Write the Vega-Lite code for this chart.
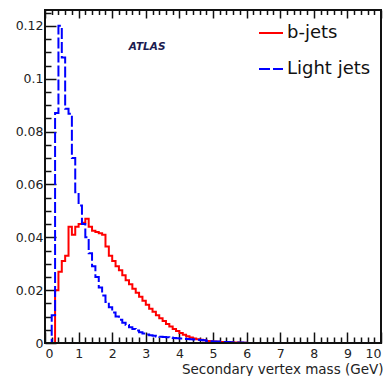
{
  "$schema": "https://vega.github.io/schema/vega-lite/v6.json",
  "width": 336,
  "height": 333,
  "autosize": {"type": "none"},
  "padding": {"left": 45, "top": 10, "right": 4, "bottom": 33},
  "background": "white",
  "config": {
    "font": "DejaVu Sans",
    "view": {"stroke": "#111", "strokeWidth": 2},
    "axis": {"grid": false, "domain": false, "tickColor": "#111", "tickWidth": 1.5, "labelColor": "#222", "labelFont": "DejaVu Sans"},
    "legend": {
      "orient": "none", "legendX": 213, "legendY": 10, "padding": 0,
      "symbolType": "stroke", "symbolSize": 576, "symbolStrokeWidth": 2,
      "labelFont": "DejaVu Sans", "labelFontSize": 18, "labelColor": "#111",
      "labelOffset": 3, "rowPadding": 14
    }
  },
  "datasets": {
    "bjets": [
      {"mass": 0.0, "frac": 0, "jet": "b-jets"}, {"mass": 0.1, "frac": 0, "jet": "b-jets"},
      {"mass": 0.2, "frac": 0, "jet": "b-jets"}, {"mass": 0.3, "frac": 0.020, "jet": "b-jets"},
      {"mass": 0.4, "frac": 0.027, "jet": "b-jets"}, {"mass": 0.5, "frac": 0.031, "jet": "b-jets"},
      {"mass": 0.6, "frac": 0.033, "jet": "b-jets"}, {"mass": 0.7, "frac": 0.044, "jet": "b-jets"},
      {"mass": 0.8, "frac": 0.041, "jet": "b-jets"}, {"mass": 0.9, "frac": 0.044, "jet": "b-jets"},
      {"mass": 1.0, "frac": 0.045, "jet": "b-jets"}, {"mass": 1.1, "frac": 0.0455, "jet": "b-jets"},
      {"mass": 1.2, "frac": 0.047, "jet": "b-jets"}, {"mass": 1.3, "frac": 0.044, "jet": "b-jets"},
      {"mass": 1.4, "frac": 0.0425, "jet": "b-jets"}, {"mass": 1.5, "frac": 0.042, "jet": "b-jets"},
      {"mass": 1.6, "frac": 0.0415, "jet": "b-jets"}, {"mass": 1.7, "frac": 0.041, "jet": "b-jets"},
      {"mass": 1.8, "frac": 0.0365, "jet": "b-jets"}, {"mass": 1.9, "frac": 0.033, "jet": "b-jets"},
      {"mass": 2.0, "frac": 0.031, "jet": "b-jets"}, {"mass": 2.1, "frac": 0.029, "jet": "b-jets"},
      {"mass": 2.2, "frac": 0.0275, "jet": "b-jets"}, {"mass": 2.3, "frac": 0.0256, "jet": "b-jets"},
      {"mass": 2.4, "frac": 0.0237, "jet": "b-jets"}, {"mass": 2.5, "frac": 0.0222, "jet": "b-jets"},
      {"mass": 2.6, "frac": 0.0205, "jet": "b-jets"}, {"mass": 2.7, "frac": 0.019, "jet": "b-jets"},
      {"mass": 2.8, "frac": 0.0175, "jet": "b-jets"}, {"mass": 2.9, "frac": 0.016, "jet": "b-jets"},
      {"mass": 3.0, "frac": 0.0145, "jet": "b-jets"}, {"mass": 3.1, "frac": 0.013, "jet": "b-jets"},
      {"mass": 3.2, "frac": 0.0118, "jet": "b-jets"}, {"mass": 3.3, "frac": 0.0105, "jet": "b-jets"},
      {"mass": 3.4, "frac": 0.0094, "jet": "b-jets"}, {"mass": 3.5, "frac": 0.0083, "jet": "b-jets"},
      {"mass": 3.6, "frac": 0.0072, "jet": "b-jets"}, {"mass": 3.7, "frac": 0.0062, "jet": "b-jets"},
      {"mass": 3.8, "frac": 0.0053, "jet": "b-jets"}, {"mass": 3.9, "frac": 0.0045, "jet": "b-jets"},
      {"mass": 4.0, "frac": 0.0038, "jet": "b-jets"}, {"mass": 4.1, "frac": 0.0031, "jet": "b-jets"},
      {"mass": 4.2, "frac": 0.0026, "jet": "b-jets"}, {"mass": 4.3, "frac": 0.0021, "jet": "b-jets"},
      {"mass": 4.4, "frac": 0.0017, "jet": "b-jets"}, {"mass": 4.5, "frac": 0.0014, "jet": "b-jets"},
      {"mass": 4.6, "frac": 0.0012, "jet": "b-jets"}, {"mass": 4.7, "frac": 0.001, "jet": "b-jets"},
      {"mass": 4.8, "frac": 0.0008, "jet": "b-jets"}, {"mass": 4.9, "frac": 0.0007, "jet": "b-jets"},
      {"mass": 5.0, "frac": 0.0006, "jet": "b-jets"}, {"mass": 5.1, "frac": 0.0005, "jet": "b-jets"},
      {"mass": 5.2, "frac": 0.0004, "jet": "b-jets"}, {"mass": 5.3, "frac": 0.0004, "jet": "b-jets"},
      {"mass": 5.4, "frac": 0.0003, "jet": "b-jets"}, {"mass": 5.5, "frac": 0.0003, "jet": "b-jets"},
      {"mass": 5.6, "frac": 0.0002, "jet": "b-jets"}, {"mass": 5.7, "frac": 0.0002, "jet": "b-jets"},
      {"mass": 5.8, "frac": 0.0001, "jet": "b-jets"}, {"mass": 5.9, "frac": 0.0001, "jet": "b-jets"},
      {"mass": 6.0, "frac": 0, "jet": "b-jets"}, {"mass": 10.0, "frac": 0, "jet": "b-jets"}
    ],
    "light": [
      {"mass": 0.0, "frac": 0, "jet": "Light jets"}, {"mass": 0.1, "frac": 0, "jet": "Light jets"},
      {"mass": 0.2, "frac": 0.0105, "jet": "Light jets"}, {"mass": 0.3, "frac": 0.087, "jet": "Light jets"},
      {"mass": 0.4, "frac": 0.120, "jet": "Light jets"}, {"mass": 0.5, "frac": 0.108, "jet": "Light jets"},
      {"mass": 0.6, "frac": 0.0886, "jet": "Light jets"}, {"mass": 0.7, "frac": 0.0867, "jet": "Light jets"},
      {"mass": 0.8, "frac": 0.070, "jet": "Light jets"}, {"mass": 0.9, "frac": 0.057, "jet": "Light jets"},
      {"mass": 1.0, "frac": 0.052, "jet": "Light jets"}, {"mass": 1.1, "frac": 0.045, "jet": "Light jets"},
      {"mass": 1.2, "frac": 0.040, "jet": "Light jets"}, {"mass": 1.3, "frac": 0.034, "jet": "Light jets"},
      {"mass": 1.4, "frac": 0.029, "jet": "Light jets"}, {"mass": 1.5, "frac": 0.025, "jet": "Light jets"},
      {"mass": 1.6, "frac": 0.021, "jet": "Light jets"}, {"mass": 1.7, "frac": 0.018, "jet": "Light jets"},
      {"mass": 1.8, "frac": 0.0155, "jet": "Light jets"}, {"mass": 1.9, "frac": 0.0135, "jet": "Light jets"},
      {"mass": 2.0, "frac": 0.0115, "jet": "Light jets"}, {"mass": 2.1, "frac": 0.010, "jet": "Light jets"},
      {"mass": 2.2, "frac": 0.0088, "jet": "Light jets"}, {"mass": 2.3, "frac": 0.0077, "jet": "Light jets"},
      {"mass": 2.4, "frac": 0.0068, "jet": "Light jets"}, {"mass": 2.5, "frac": 0.006, "jet": "Light jets"},
      {"mass": 2.6, "frac": 0.0053, "jet": "Light jets"}, {"mass": 2.7, "frac": 0.0047, "jet": "Light jets"},
      {"mass": 2.8, "frac": 0.0041, "jet": "Light jets"}, {"mass": 2.9, "frac": 0.0036, "jet": "Light jets"},
      {"mass": 3.0, "frac": 0.0032, "jet": "Light jets"}, {"mass": 3.1, "frac": 0.0029, "jet": "Light jets"},
      {"mass": 3.2, "frac": 0.0027, "jet": "Light jets"}, {"mass": 3.3, "frac": 0.0025, "jet": "Light jets"},
      {"mass": 3.4, "frac": 0.0024, "jet": "Light jets"}, {"mass": 3.5, "frac": 0.0023, "jet": "Light jets"},
      {"mass": 3.6, "frac": 0.0022, "jet": "Light jets"}, {"mass": 3.7, "frac": 0.0021, "jet": "Light jets"},
      {"mass": 3.8, "frac": 0.0019, "jet": "Light jets"}, {"mass": 3.9, "frac": 0.0018, "jet": "Light jets"},
      {"mass": 4.0, "frac": 0.0017, "jet": "Light jets"}, {"mass": 4.1, "frac": 0.0016, "jet": "Light jets"},
      {"mass": 4.2, "frac": 0.0015, "jet": "Light jets"}, {"mass": 4.3, "frac": 0.0014, "jet": "Light jets"},
      {"mass": 4.4, "frac": 0.0013, "jet": "Light jets"}, {"mass": 4.5, "frac": 0.0012, "jet": "Light jets"},
      {"mass": 4.6, "frac": 0.0011, "jet": "Light jets"}, {"mass": 4.7, "frac": 0.001, "jet": "Light jets"},
      {"mass": 4.8, "frac": 0.0008, "jet": "Light jets"}, {"mass": 4.9, "frac": 0.0007, "jet": "Light jets"},
      {"mass": 5.0, "frac": 0.0006, "jet": "Light jets"}, {"mass": 5.1, "frac": 0.0006, "jet": "Light jets"},
      {"mass": 5.2, "frac": 0.0005, "jet": "Light jets"}, {"mass": 5.3, "frac": 0.0004, "jet": "Light jets"},
      {"mass": 5.4, "frac": 0.0004, "jet": "Light jets"}, {"mass": 5.5, "frac": 0.0003, "jet": "Light jets"},
      {"mass": 5.6, "frac": 0.0003, "jet": "Light jets"}, {"mass": 5.7, "frac": 0.0002, "jet": "Light jets"},
      {"mass": 5.8, "frac": 0.0002, "jet": "Light jets"}, {"mass": 5.9, "frac": 0.0001, "jet": "Light jets"},
      {"mass": 6.0, "frac": 0, "jet": "Light jets"}, {"mass": 10.0, "frac": 0, "jet": "Light jets"}
    ],
    "tag": [{"mass": 3.04, "frac": 0.1109, "text": "ATLAS"}],
    "base": [{"mass": 0, "mass_end": 10, "frac": 0}]
  },
  "resolve": {"axis": {"x": "independent", "y": "independent"}},
  "layer": [
    {
      "data": {"name": "bjets"},
      "mark": {"type": "line", "interpolate": "step-after", "strokeWidth": 2},
      "encoding": {
        "x": {
          "field": "mass", "type": "quantitative",
          "scale": {"domain": [0, 10], "nice": false, "zero": false},
          "axis": {
            "orient": "bottom", "values": [0, 1, 2, 3, 4, 5, 6, 7, 8, 9, 10],
            "offset": -11, "tickSize": 11, "labelPadding": 4, "labelFontSize": 12.5, "format": "d",
            "title": "Secondary vertex mass (GeV)", "titleFontSize": 13.5, "titleFontWeight": "normal",
            "titleColor": "#222", "titleAlign": "right", "titleAnchor": "end", "titleX": 338, "titleY": 41,
            "titleBaseline": "alphabetic"
          }
        },
        "y": {
          "field": "frac", "type": "quantitative",
          "scale": {"domain": [0, 0.126], "nice": false},
          "axis": {
            "orient": "left", "values": [0, 0.02, 0.04, 0.06, 0.08, 0.1, 0.12],
            "offset": -11, "tickSize": 11, "labelPadding": 2, "labelFontSize": 12.5,
            "format": ".2~f", "title": null
          }
        },
        "color": {
          "field": "jet", "type": "nominal",
          "scale": {"domain": ["b-jets", "Light jets"], "range": ["#ff0000", "#0000ff"]},
          "legend": {"title": null}
        },
        "strokeDash": {
          "field": "jet", "type": "nominal",
          "scale": {"domain": ["b-jets", "Light jets"], "range": [[1, 0], [11, 3]]},
          "legend": {"title": null}
        }
      }
    },
    {
      "data": {"name": "light"},
      "mark": {"type": "line", "interpolate": "step-after", "strokeWidth": 2},
      "encoding": {
        "x": {
          "field": "mass", "type": "quantitative",
          "axis": {
            "orient": "bottom", "offset": -6, "tickSize": 6, "labels": false, "title": null,
            "values": [0.2, 0.4, 0.6, 0.8, 1.2, 1.4, 1.6, 1.8, 2.2, 2.4, 2.6, 2.8, 3.2, 3.4, 3.6, 3.8, 4.2, 4.4, 4.6, 4.8, 5.2, 5.4, 5.6, 5.8, 6.2, 6.4, 6.6, 6.8, 7.2, 7.4, 7.6, 7.8, 8.2, 8.4, 8.6, 8.8, 9.2, 9.4, 9.6, 9.8]
          }
        },
        "y": {
          "field": "frac", "type": "quantitative",
          "axis": {
            "orient": "left", "offset": -6, "tickSize": 6, "labels": false, "title": null,
            "values": [0.005, 0.01, 0.015, 0.025, 0.03, 0.035, 0.045, 0.05, 0.055, 0.065, 0.07, 0.075, 0.085, 0.09, 0.095, 0.105, 0.11, 0.115, 0.125]
          }
        },
        "color": {"field": "jet", "type": "nominal", "legend": {"title": null}},
        "strokeDash": {"field": "jet", "type": "nominal", "legend": {"title": null}}
      }
    },
    {
      "data": {"name": "tag"},
      "mark": {"type": "text", "align": "center", "baseline": "alphabetic", "fontSize": 10.5, "fontStyle": "italic", "fontWeight": "bold", "color": "#1c1c50"},
      "encoding": {
        "x": {
          "field": "mass", "type": "quantitative",
          "axis": {
            "orient": "top", "offset": -4.5, "tickSize": 4.5, "labels": false, "title": null,
            "values": [0.2, 0.4, 0.6, 0.8, 1.2, 1.4, 1.6, 1.8, 2.2, 2.4, 2.6, 2.8, 3.2, 3.4, 3.6, 3.8, 4.2, 4.4, 4.6, 4.8, 5.2, 5.4, 5.6, 5.8, 6.2, 6.4, 6.6, 6.8, 7.2, 7.4, 7.6, 7.8, 8.2, 8.4, 8.6, 8.8, 9.2, 9.4, 9.6, 9.8]
          }
        },
        "y": {"field": "frac", "type": "quantitative", "axis": null},
        "text": {"field": "text"}
      }
    },
    {
      "data": {"name": "base"},
      "mark": {"type": "rule", "color": "#111", "strokeWidth": 2},
      "encoding": {
        "x": {
          "field": "mass", "type": "quantitative",
          "axis": {"orient": "top", "offset": -8, "tickSize": 8, "labels": false, "title": null, "values": [0, 1, 2, 3, 4, 5, 6, 7, 8, 9, 10]}
        },
        "x2": {"field": "mass_end"},
        "y": {"field": "frac", "type": "quantitative", "axis": null}
      }
    }
  ]
}
